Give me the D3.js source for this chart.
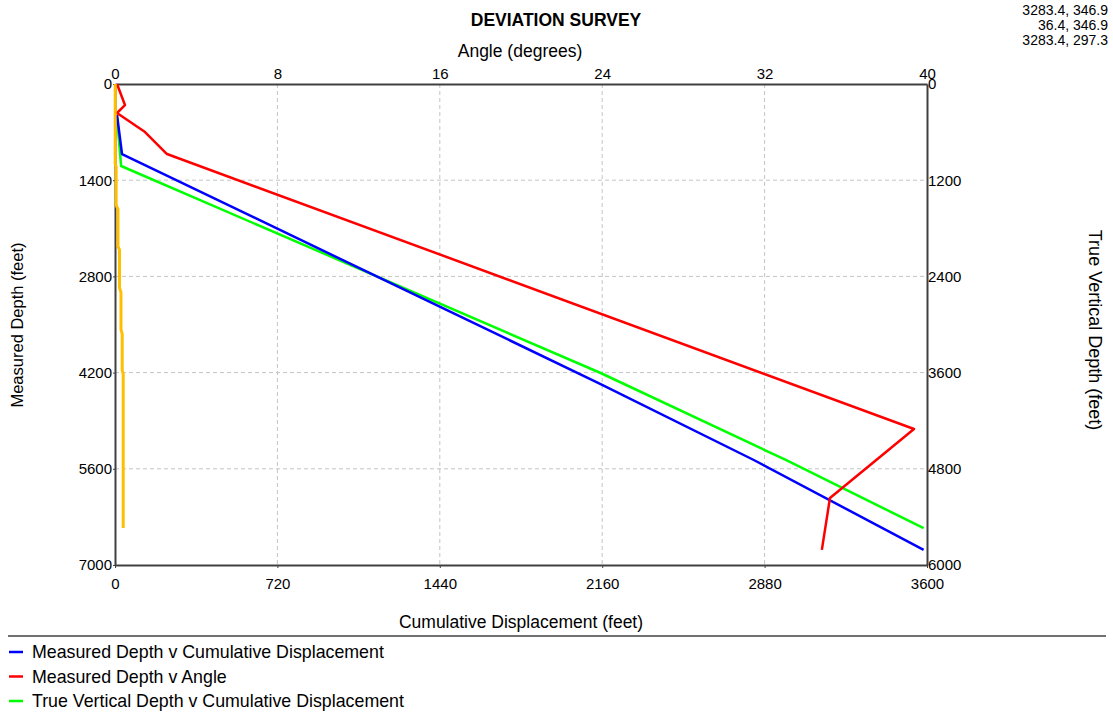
<!DOCTYPE html>
<html>
<head>
<meta charset="utf-8">
<script src="https://cdn.jsdelivr.net/npm/d3@7"></script>
<style>
    body { margin: 0; background: #fff; }
    #chart { width: 1113px; height: 715px; }
    text { font-family: "Liberation Sans", Arial, sans-serif; fill: #000; }
</style>
</head>
<body>
<div id="chart"></div>
<script>
// tick labels
let angleTicks = [0, 8, 16, 24, 32, 40];
let dispTicks = [0, 720, 1440, 2160, 2880, 3600];
let mdTicks = [0, 1400, 2800, 4200, 5600, 7000];
let tvdTicks = [0, 1200, 2400, 3600, 4800, 6000];

// Measured Depth v Cumulative Displacement
let blueDisp = [9, 31, 2153, 2832, 3585];
let blueMd = [450, 1019, 4366, 5472, 6780];

// Measured Depth v Angle
let redAngle = [0.1, 0.49, 0.1, 1.48, 2.56, 39.36, 35.22, 34.82];
let redMd = [0, 306, 422, 699, 1019, 5021, 6025, 6780];

// True Vertical Depth v Cumulative Displacement
let greenDisp = [9, 27, 2153, 2974, 3585];
let greenTvd = [412, 1023, 3605, 4690, 5540];

// unlabelled orange trace
let orangeDisp = [1, 1, 5, 5, 13, 13, 20, 20, 26.5, 26.5, 32, 32, 36.4, 36.4];
let orangeTvd = [0, 1000, 1030, 1510, 1560, 2020, 2070, 2540, 2600, 3060, 3120, 3570, 3620, 5540];

let legendLabels = ["Measured Depth v Cumulative Displacement", "Measured Depth v Angle",
    "True Vertical Depth v Cumulative Displacement"];
let cornerText = ["3283.4, 346.9", "36.4, 346.9", "3283.4, 297.3"];

class DeviationChart {
    constructor(parentElement) {
        this.parentElement = parentElement;
        this.initVis();
    }

    initVis() {
        let vis = this;
        vis.margin = {top: 84, right: 186, bottom: 150, left: 115};
        vis.width = 1113 - vis.margin.left - vis.margin.right;
        vis.height = 715 - vis.margin.top - vis.margin.bottom;

        vis.root = d3.select("#" + vis.parentElement).append("svg")
            .attr("width", 1113)
            .attr("height", 715);
        vis.svg = vis.root.append("g")
            .attr("transform", `translate(${vis.margin.left}, ${vis.margin.top})`);

        vis.xDisp = d3.scaleLinear().domain([0, 3600]).range([0, vis.width]);
        vis.xAngle = d3.scaleLinear().domain([0, 40]).range([0, vis.width]);
        vis.yMd = d3.scaleLinear().domain([0, 7000]).range([0, vis.height]);
        vis.yTvd = d3.scaleLinear().domain([0, 6000]).range([0, vis.height]);

        // grid
        vis.svg.append("g").selectAll("line.hgrid")
            .data(mdTicks.slice(1, -1))
            .enter().append("line")
            .attr("class", "hgrid")
            .attr("x1", 0).attr("x2", vis.width)
            .attr("y1", d => vis.yMd(d)).attr("y2", d => vis.yMd(d));
        vis.svg.append("g").selectAll("line.vgrid")
            .data(dispTicks.slice(1, -1))
            .enter().append("line")
            .attr("class", "vgrid")
            .attr("y1", 0).attr("y2", vis.height)
            .attr("x1", d => vis.xDisp(d)).attr("x2", d => vis.xDisp(d));
        vis.svg.selectAll("line.hgrid, line.vgrid")
            .attr("stroke", "#c4c4c4")
            .attr("stroke-width", 1)
            .attr("stroke-dasharray", "4,3");

        // axes
        let fmt = d3.format("d");
        vis.svg.append("g")
            .attr("class", "axis")
            .attr("transform", `translate(0, ${vis.height})`)
            .call(d3.axisBottom(vis.xDisp).tickValues(dispTicks).tickFormat(fmt)
                .tickSizeInner(3).tickSizeOuter(0).tickPadding(10));
        vis.svg.append("g")
            .attr("class", "axis")
            .call(d3.axisTop(vis.xAngle).tickValues(angleTicks).tickFormat(fmt)
                .tickSizeInner(0).tickSizeOuter(0).tickPadding(5));
        vis.svg.append("g")
            .attr("class", "axis")
            .call(d3.axisLeft(vis.yMd).tickValues(mdTicks).tickFormat(fmt)
                .tickSizeInner(2).tickSizeOuter(0).tickPadding(1));
        vis.svg.append("g")
            .attr("class", "axis")
            .attr("transform", `translate(${vis.width}, 0)`)
            .call(d3.axisRight(vis.yTvd).tickValues(tvdTicks).tickFormat(fmt)
                .tickSizeInner(0).tickSizeOuter(0).tickPadding(1));

        vis.svg.selectAll(".axis path").attr("stroke", "#404040").attr("stroke-width", 2);
        vis.svg.selectAll(".axis line").attr("stroke", "#404040");
        vis.svg.selectAll(".axis text")
            .style("font-family", "'Liberation Sans', Arial, sans-serif")
            .style("font-size", "15px")
            .attr("fill", "#000");

        // titles
        vis.root.append("text")
            .attr("x", 556).attr("y", 26)
            .attr("text-anchor", "middle")
            .style("font-size", "17.5px")
            .style("font-weight", "bold")
            .text("DEVIATION SURVEY");
        vis.root.append("text")
            .attr("x", 520).attr("y", 57)
            .attr("text-anchor", "middle")
            .style("font-size", "17.5px")
            .text("Angle (degrees)");
        vis.root.append("text")
            .attr("x", 521).attr("y", 628)
            .attr("text-anchor", "middle")
            .style("font-size", "17.5px")
            .text("Cumulative Displacement (feet)");
        vis.root.append("text")
            .attr("transform", "translate(23, 325) rotate(-90)")
            .attr("text-anchor", "middle")
            .style("font-size", "16.5px")
            .text("Measured Depth (feet)");
        vis.root.append("text")
            .attr("transform", "translate(1089, 330) rotate(90)")
            .attr("text-anchor", "middle")
            .style("font-size", "18px")
            .text("True Vertical Depth (feet)");

        vis.root.selectAll("text.corner")
            .data(cornerText)
            .enter().append("text")
            .attr("class", "corner")
            .attr("x", 1108)
            .attr("y", (d, i) => 15 + i * 15)
            .attr("text-anchor", "end")
            .style("font-size", "14px")
            .text(d => d);

        // legend
        vis.root.append("line")
            .attr("x1", 8).attr("x2", 1106)
            .attr("y1", 636).attr("y2", 636)
            .attr("stroke", "#404040").attr("stroke-width", 1.5);

        let colors = ["#0000ff", "#ff0000", "#00ff00"];
        vis.legend = vis.root.selectAll(".legend")
            .data(legendLabels)
            .enter().append("g")
            .attr("class", "legend")
            .attr("transform", (d, i) => "translate(0," + (652 + i * 24.5) + ")");
        vis.legend.append("line")
            .attr("x1", 9).attr("x2", 23)
            .attr("stroke", (d, i) => colors[i])
            .attr("stroke-width", 2.5);
        vis.legend.append("text")
            .attr("x", 32)
            .attr("dy", ".35em")
            .style("font-size", "17.8px")
            .text(d => d);

        vis.wrangleData();
    }

    wrangleData() {
        let vis = this;
        vis.series = [
            {color: "#00ff00", width: 2.5, x: vis.xDisp, y: vis.yTvd, xs: greenDisp, ys: greenTvd},
            {color: "#0000ff", width: 2.5, x: vis.xDisp, y: vis.yMd, xs: blueDisp, ys: blueMd},
            {color: "#ff0000", width: 2.5, x: vis.xAngle, y: vis.yMd, xs: redAngle, ys: redMd},
            {color: "#ffbf00", width: 3, x: vis.xDisp, y: vis.yTvd, xs: orangeDisp, ys: orangeTvd}
        ];
        vis.series.forEach(s => {
            s.points = s.xs.map((v, i) => [v, s.ys[i]]);
        });
        vis.updateVis();
    }

    updateVis() {
        let vis = this;
        vis.svg.selectAll("path.series")
            .data(vis.series)
            .enter().append("path")
            .attr("class", "series")
            .attr("fill", "none")
            .attr("stroke", d => d.color)
            .attr("stroke-width", d => d.width)
            .attr("stroke-linejoin", "round")
            .attr("d", d => d3.line()
                .x(p => d.x(p[0]))
                .y(p => d.y(p[1]))(d.points));
    }
}

new DeviationChart("chart");
</script>
</body>
</html>
